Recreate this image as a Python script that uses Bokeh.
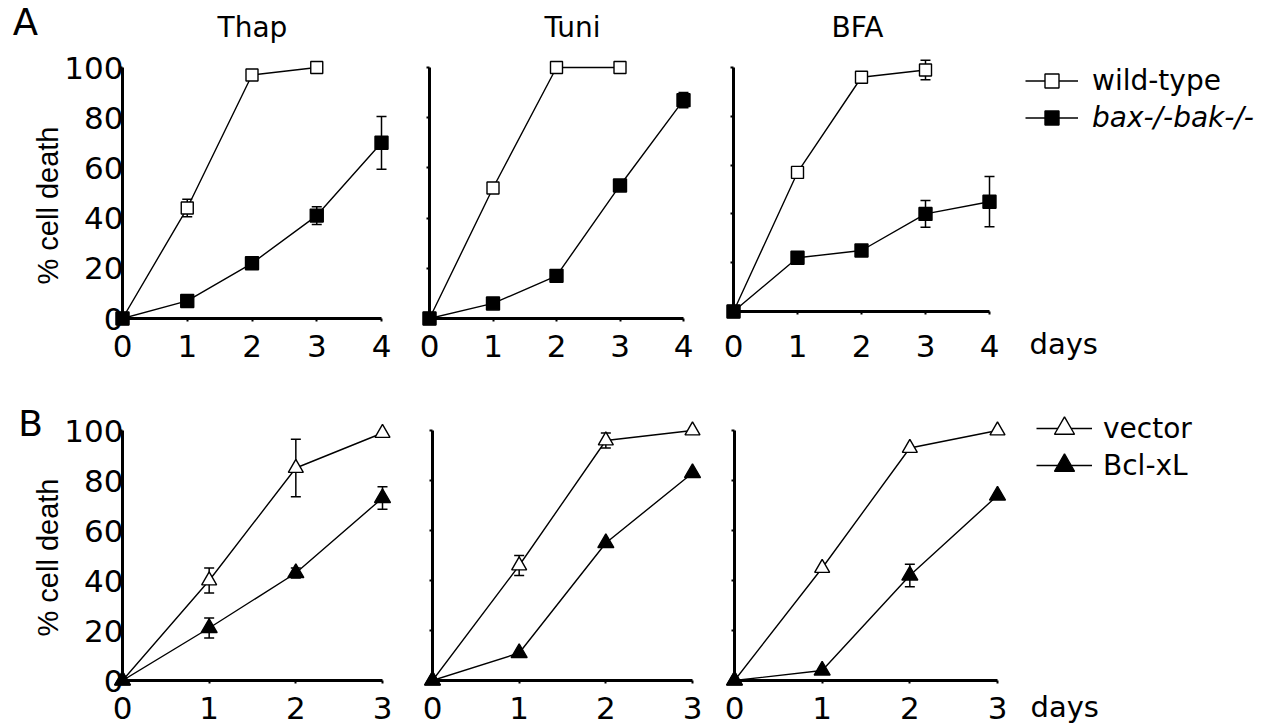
import math
from bokeh.plotting import figure
from bokeh.models import (Range1d, FixedTicker, CustomJSTickFormatter, Label, Legend,
                          LegendItem, Whisker, TeeHead, ColumnDataSource)
from bokeh.core.properties import value
from bokeh.layouts import column, row
from bokeh.embed import file_html
from bokeh.resources import INLINE

# ---------------- data ----------------
days_a = [0, 1, 2, 3, 4]
days_b = [0, 1, 2, 3]
titles = ["Thap", "Tuni", "BFA"]
y_ticks = [0, 20, 40, 60, 80, 100]
x_ticks_a = [0, 1, 2, 3, 4]
x_ticks_b = [0, 1, 2, 3]
legend_a = ["wild-type", "bax-/-bak-/-"]
legend_b = ["vector", "Bcl-xL"]
panel_letters = ["A", "B"]
y_label = "% cell death"
x_label = "days"

# panel A (wild-type measured days 0-3, bax-/-bak-/- days 0-4)
thap_wt = [0, 44, 97, 100]
thap_wt_err = [0, 3.5, 1, 0]
thap_ko = [0, 7, 22, 41, 70]
thap_ko_err = [0, 0, 0, 3.5, 10.5]
tuni_wt = [0, 52, 100, 100]
tuni_wt_err = [0, 0, 0, 0]
tuni_ko = [0, 6, 17, 53, 87]
tuni_ko_err = [0, 0, 0, 0, 3]
bfa_wt = [0, 57, 96, 99]
bfa_wt_err = [0, 0, 0, 4]
bfa_ko = [0, 22, 25, 40, 45]
bfa_ko_err = [0, 0, 0, 5.5, 10.3]

# panel B (days 0-3)
thap_vec = [0, 40, 85, 99]
thap_vec_err = [0, 5, 11.5, 0]
thap_bcl = [0, 21, 43, 73]
thap_bcl_err = [0, 4, 2, 4.5]
tuni_vec = [0, 46, 96, 100]
tuni_vec_err = [0, 4, 3, 0]
tuni_bcl = [0, 11, 55, 83]
tuni_bcl_err = [0, 0, 0, 0]
bfa_vec = [0, 45, 93, 100]
bfa_vec_err = [0, 0, 0, 0]
bfa_bcl = [0, 4, 42, 74]
bfa_bcl_err = [0, 0, 4.5, 0]

FONT = "DejaVu Sans"
TICK_FS = "31px"


def make_panel(fig_box, frame_box, xmax, x_last_px, y100_px, xticks,
               show_ylabels, xstandoff):
    gx0, gy0, gx1, gy1 = fig_box
    fx0, fy0, fx1, fy1 = frame_box
    x_end = xmax * (fx1 - fx0) / (x_last_px - fx0)
    y_end = 100.0 * (fy1 - fy0) / (fy1 - y100_px)
    p = figure(width=gx1 - gx0, height=gy1 - gy0,
               x_range=Range1d(0, x_end), y_range=Range1d(0, y_end),
               min_border_left=fx0 - gx0, min_border_right=gx1 - fx1,
               min_border_top=fy0 - gy0, min_border_bottom=gy1 - fy1,
               output_backend="svg", toolbar_location=None)
    p.outline_line_color = None
    p.grid.visible = False
    p.background_fill_color = "white"
    p.border_fill_color = "white"
    for ax in (p.xaxis[0], p.yaxis[0]):
        ax.axis_line_width = 3
        ax.axis_line_color = "black"
        ax.major_tick_line_width = 2
        ax.major_tick_line_color = "black"
        ax.major_tick_in = 0
        ax.major_tick_out = 3
        ax.minor_tick_line_color = None
        ax.major_label_text_font = FONT
        ax.major_label_text_font_size = TICK_FS
        ax.major_label_text_color = "black"
    p.xaxis.ticker = FixedTicker(ticks=xticks)
    p.yaxis.ticker = FixedTicker(ticks=y_ticks)
    p.xaxis.major_label_standoff = xstandoff
    p.yaxis.major_label_standoff = -4
    p.xaxis.bounds = (0, xmax)
    p.yaxis.bounds = (0, 100)
    if not show_ylabels:
        p.yaxis.formatter = CustomJSTickFormatter(code="return ''")

    def dx(sx):
        return (sx - fx0) / (fx1 - fx0) * x_end

    def dy(sy):
        return (fy1 - sy) / (fy1 - fy0) * y_end

    return p, dx, dy


def series(p, xs, ys, errs, marker, filled, size, lw=1.4):
    ex = [x for x, e in zip(xs, errs) if e > 0]
    if ex:
        eu = [y + e for y, e in zip(ys, errs) if e > 0]
        el = [y - e for y, e in zip(ys, errs) if e > 0]
        src = ColumnDataSource(dict(x=ex, upper=eu, lower=el))
        w = Whisker(source=src, base="x", upper="upper", lower="lower",
                    line_color="black", line_width=1.5,
                    upper_head=TeeHead(size=10, line_width=1.5, line_color="black"),
                    lower_head=TeeHead(size=10, line_width=1.5, line_color="black"))
        p.add_layout(w)
    r_line = p.line(xs, ys, line_color="black", line_width=lw)
    r_sc = p.scatter(xs, ys, marker=marker, size=size,
                     fill_color="black" if filled else "white",
                     line_color="black", line_width=1.4, level="overlay")
    return r_line, r_sc


def add_label(p, x, y, text, size, align="left", font=FONT, style="normal"):
    p.add_layout(Label(x=x, y=y, text=text, text_font=font, text_font_size=size,
                       text_align=align, text_baseline="alphabetic", text_color="black",
                       text_font_style=style, level="overlay"))


def add_free_text(p, x, y, text, size, align="left", font=FONT, angle=0.0):
    # free-standing text drawn as an overlay glyph so it is not clipped to the frame
    p.text(x=[x], y=[y], text=[text], text_font=value(font), text_font_size=value(size),
           text_align=align, text_baseline="alphabetic", text_color="black",
           angle=angle, level="overlay")


def add_legend(p, label, renderers, loc, gw, gh, standoff, style="normal"):
    leg = Legend(items=[LegendItem(label=label, renderers=list(renderers))],
                 location=loc, orientation="vertical", padding=0, margin=0, spacing=0,
                 border_line_color=None, background_fill_alpha=0,
                 glyph_width=gw, glyph_height=gh, label_height=gh,
                 label_standoff=standoff, label_text_font=FONT,
                 label_text_font_size="28px", label_text_font_style=style,
                 label_text_color="black", level="overlay")
    p.add_layout(leg)


# ---------------- row A ----------------
# (figure box, frame box, screen x of last day, screen y of 100 %, y labels, x standoff)
a_specs = [
    ((0, 0, 400, 390), (122, 8, 400, 318), 381, 67, True, 13),
    ((400, 0, 715, 390), (429, 8, 715, 318), 683, 67, False, 13),
    ((715, 0, 1271, 390), (733, 8, 1271, 311), 989, 67, False, 20),
]
a_wt = [thap_wt, tuni_wt, bfa_wt]
a_wt_err = [thap_wt_err, tuni_wt_err, bfa_wt_err]
a_ko = [thap_ko, tuni_ko, bfa_ko]
a_ko_err = [thap_ko_err, tuni_ko_err, bfa_ko_err]
title_cx = [252, 572, 857]

row_a = []
for i, (fig_box, frame_box, xl, y100, showy, xso) in enumerate(a_specs):
    p, dx, dy = make_panel(fig_box, frame_box, 4, xl, y100, x_ticks_a, showy, xso)
    rw = series(p, days_a[:len(a_wt[i])], a_wt[i], a_wt_err[i], "square", False, 12)
    rk = series(p, days_a[:len(a_ko[i])], a_ko[i], a_ko_err[i], "square", True, 13)
    add_label(p, dx(title_cx[i]), dy(27), titles[i], "28px", align="center")
    if i == 0:
        add_free_text(p, dx(25), dy(22), panel_letters[0], "37px", align="center")
        add_free_text(p, dx(47), dy(205), y_label, "29px", align="center",
                      font="Liberation Sans", angle=math.pi / 2)
    if i == 2:
        add_free_text(p, dx(1029), dy(343), x_label, "29px")
        fx0, fy1 = frame_box[0], frame_box[3]
        add_legend(p, legend_a[0], rw, (1025 - fx0, fy1 - 97.5), 53, 35, 14)
        add_legend(p, legend_a[1], rk, (1025 - fx0, fy1 - 134.5), 53, 35, 14, style="italic")
    row_a.append(p)

# ---------------- row B ----------------
b_specs = [
    ((0, 390, 405, 760), (122, 392, 405, 680), 382, 430, True),
    ((405, 390, 717, 760), (432, 392, 717, 680), 692, 430, False),
    ((717, 390, 1271, 760), (734, 392, 1271, 680), 997, 430, False),
]
b_vec = [thap_vec, tuni_vec, bfa_vec]
b_vec_err = [thap_vec_err, tuni_vec_err, bfa_vec_err]
b_bcl = [thap_bcl, tuni_bcl, bfa_bcl]
b_bcl_err = [thap_bcl_err, tuni_bcl_err, bfa_bcl_err]

row_b = []
for i, (fig_box, frame_box, xl, y100, showy) in enumerate(b_specs):
    p, dx, dy = make_panel(fig_box, frame_box, 3, xl, y100, x_ticks_b, showy, 13)
    rv = series(p, days_b, b_vec[i], b_vec_err[i], "triangle", False, 15)
    rb = series(p, days_b, b_bcl[i], b_bcl_err[i], "triangle", True, 16)
    if i == 0:
        add_free_text(p, dx(30), dy(423), panel_letters[1], "36px", align="center")
        add_free_text(p, dx(47), dy(557), y_label, "29px", align="center",
                      font="Liberation Sans", angle=math.pi / 2)
    if i == 2:
        add_free_text(p, dx(1030), dy(706), x_label, "29px")
        fx0, fy1 = frame_box[0], frame_box[3]
        add_legend(p, legend_b[0], rv, (1036 - fx0, fy1 - 453), 56, 50, 11)
        add_legend(p, legend_b[1], rb, (1036 - fx0, fy1 - 490), 56, 50, 11)
    row_b.append(p)

# the BFA panel sits in its own column so that its lower x-axis keeps its own height
layout = column(row(row_a[0], row_a[1], column(row_a[2], spacing=0), spacing=0),
                row(*row_b, spacing=0), spacing=0)
page_css = "{% block postamble %}<style>html, body { overflow: hidden; }</style>{% endblock %}"
open("out.html", "w").write(file_html(layout, INLINE, template=page_css))
